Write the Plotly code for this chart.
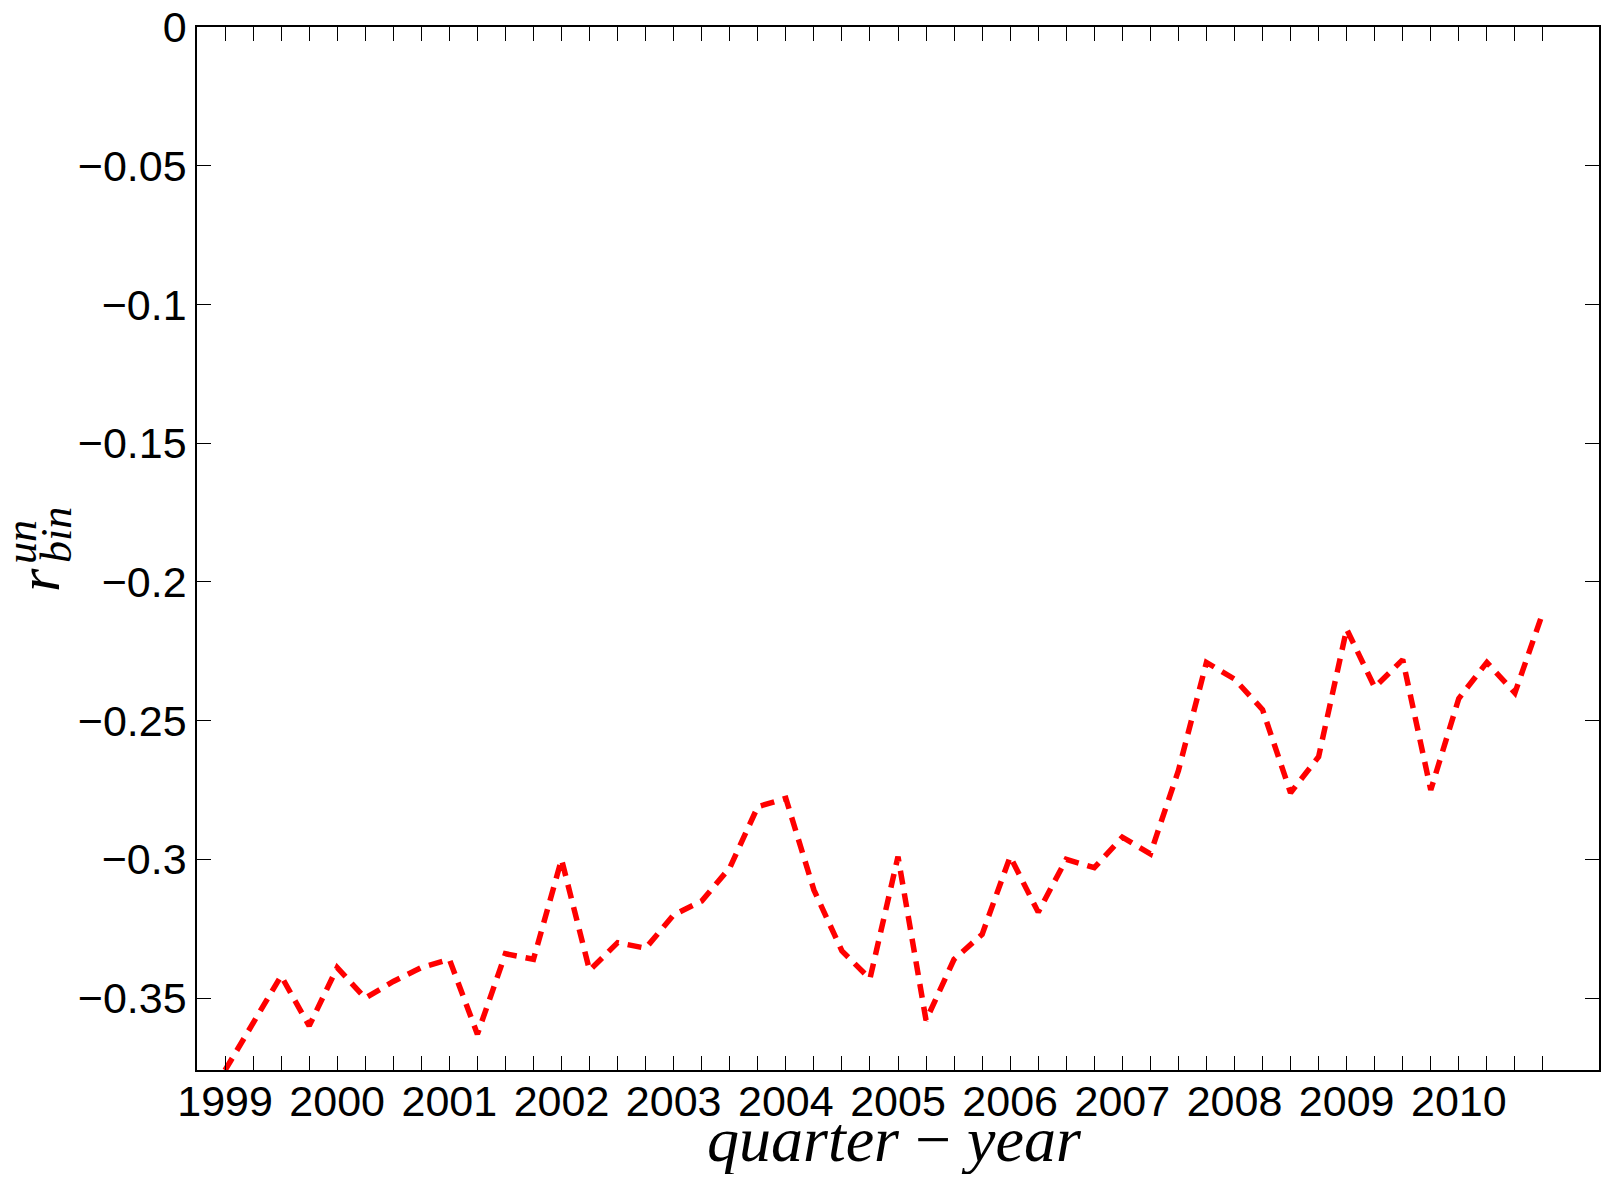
import plotly.graph_objects as go

# quarterly values, 1999 Q1 .. 2010 Q4
quarter_index = list(range(1, 49))
r_bin_un = [
    -0.376, -0.359, -0.342, -0.360, -0.339, -0.350, -0.344, -0.339,
    -0.336, -0.363, -0.334, -0.336, -0.300, -0.340, -0.330, -0.332,
    -0.320, -0.315, -0.303, -0.281, -0.278, -0.311, -0.333, -0.343,
    -0.299, -0.358, -0.336, -0.327, -0.299, -0.319, -0.300, -0.303,
    -0.292, -0.298, -0.268, -0.229, -0.235, -0.246, -0.276, -0.263,
    -0.217, -0.238, -0.228, -0.275, -0.242, -0.229, -0.240, -0.211,
]
years = ["1999", "2000", "2001", "2002", "2003", "2004",
         "2005", "2006", "2007", "2008", "2009", "2010"]
year_ticks = [1, 5, 9, 13, 17, 21, 25, 29, 33, 37, 41, 45]

y_tickvals = [0, -0.05, -0.1, -0.15, -0.2, -0.25, -0.3, -0.35]
y_ticktext = ["0", "\u22120.05", "\u22120.1", "\u22120.15", "\u22120.2",
              "\u22120.25", "\u22120.3", "\u22120.35"]

# one label per year, blank for the other quarters
x_ticktext = [""] * len(quarter_index)
for pos, yr in zip(year_ticks, years):
    x_ticktext[pos - 1] = yr

# page is 1611x1182, body has an 8px margin -> shrink the figure to fit
PAGE_OFF = 8
W, H = 1611 - 2 * PAGE_OFF, 1182 - 2 * PAGE_OFF
L, R, T, B = 189, 4, 19, 104


# page pixel -> paper coords (for the labels)
def px(x):
    return (x - PAGE_OFF - L) / (W - L - R)


def py(y):
    return (H - B - (y - PAGE_OFF)) / (H - T - B)


fig = go.Figure()
fig.add_trace(go.Scatter(
    x=quarter_index, y=r_bin_un, mode="lines",
    line=dict(color="#ff0000", width=5.5, dash="14px,9px"),
    showlegend=False,
))

axis_common = dict(
    showline=True, linecolor="black", linewidth=1.5, mirror="ticks",
    ticks="inside", ticklen=14, tickwidth=1.2, tickcolor="black",
    showgrid=False, zeroline=False, automargin=False,
    ticklabeloverflow="allow",
    tickfont=dict(family="Liberation Sans, Arial", size=43, color="black"),
)

fig.update_layout(
    width=W, height=H,
    margin=dict(l=L, r=R, t=T, b=B),
    plot_bgcolor="white", paper_bgcolor="white",
    xaxis=dict(range=[0, 50], tickmode="array", tickvals=quarter_index,
               ticktext=x_ticktext, ticklabelstandoff=-7, **axis_common),
    yaxis=dict(range=[-0.3759, 0], tickmode="array", tickvals=y_tickvals,
               ticktext=y_ticktext, **axis_common),
)

# axis titles (math-italic look)
serif = "Liberation Serif, Times New Roman"
fig.add_annotation(
    x=px(894), y=py(1139), xref="paper", yref="paper", showarrow=False,
    text="<i>quarter</i> \u2212 <i>year</i>",
    font=dict(family=serif, size=64, color="black"),
    xanchor="center", yanchor="middle",
)
fig.add_annotation(
    x=px(39), y=py(580), xref="paper", yref="paper", showarrow=False,
    text="<i>r</i>", textangle=-90,
    font=dict(family=serif, size=60, color="black"),
    xanchor="center", yanchor="middle",
)
fig.add_annotation(
    x=px(21), y=py(542), xref="paper", yref="paper", showarrow=False,
    text="<i>un</i>", textangle=-90,
    font=dict(family=serif, size=44, color="black"),
    xanchor="center", yanchor="middle",
)
fig.add_annotation(
    x=px(56), y=py(535), xref="paper", yref="paper", showarrow=False,
    text="<i>bin</i>", textangle=-90,
    font=dict(family=serif, size=44, color="black"),
    xanchor="center", yanchor="middle",
)

fig.write_html("out.html")
